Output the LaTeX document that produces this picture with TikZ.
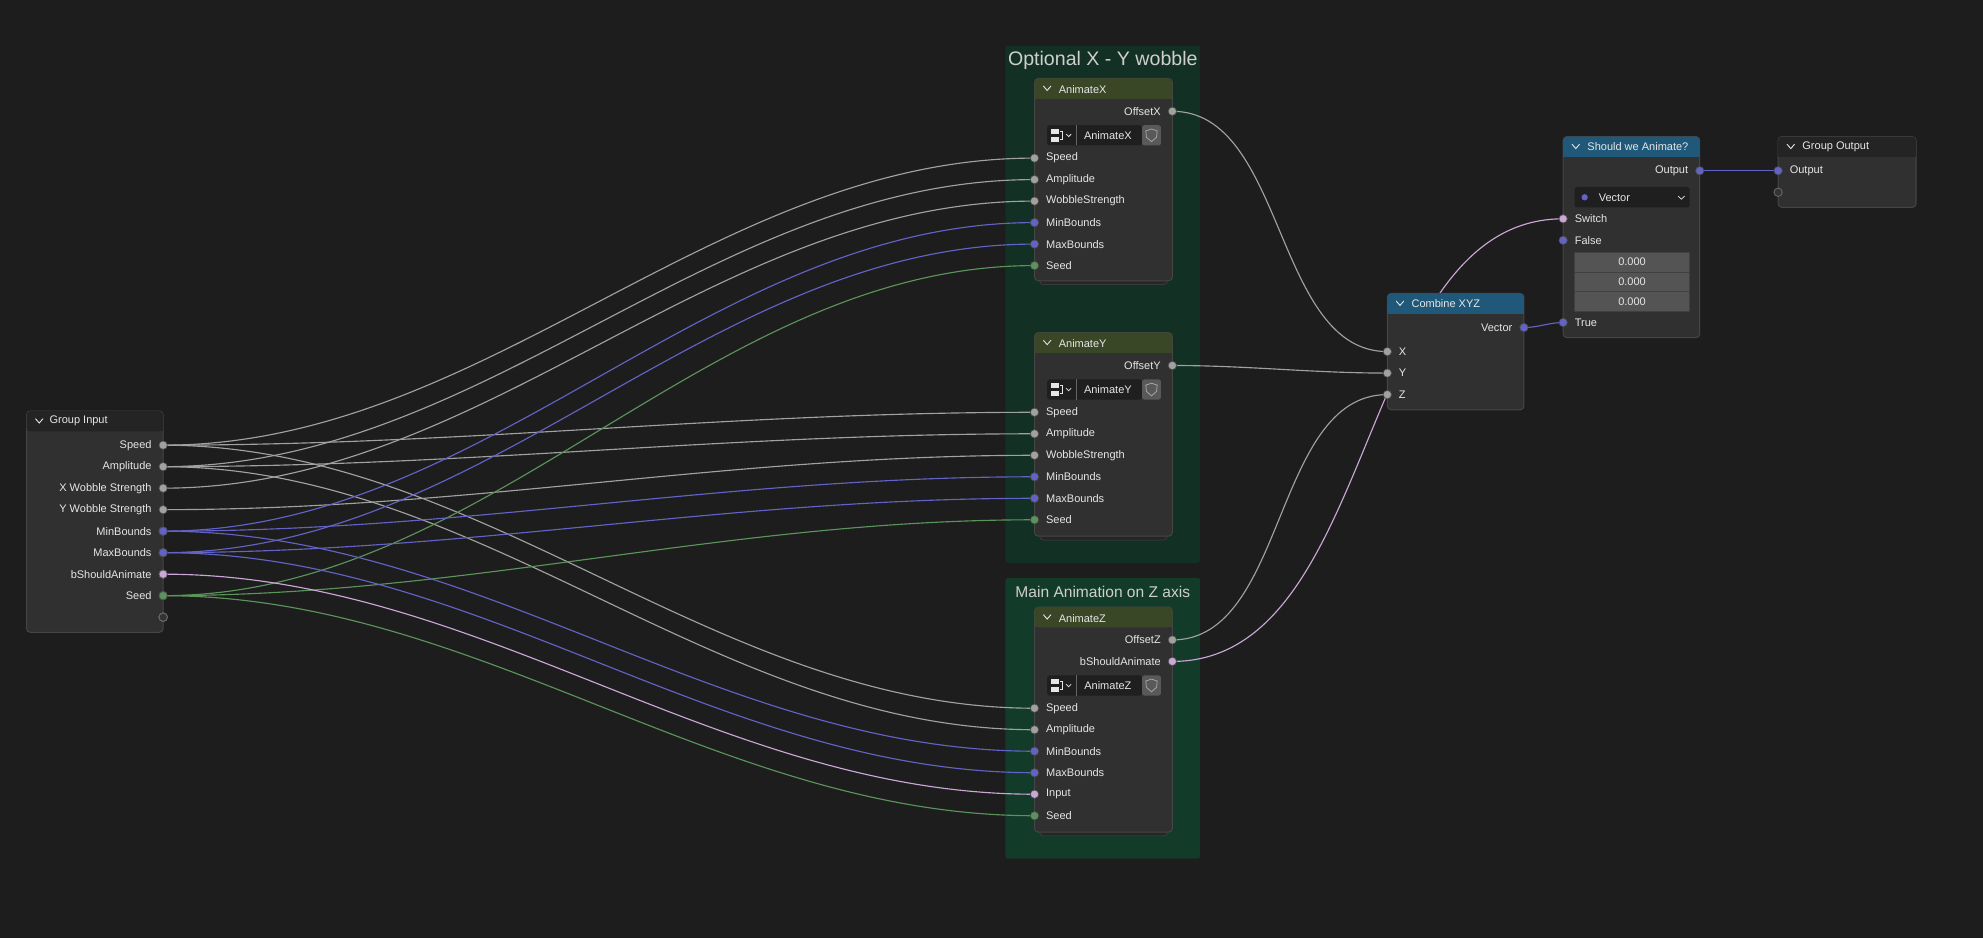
\documentclass[tikz,border=0pt]{standalone}
\usepackage{fontspec}
\setmainfont{Liberation Sans}
\begin{document}
\definecolor{bg}{HTML}{1D1D1D}
\definecolor{body}{HTML}{303030}
\definecolor{edge}{HTML}{454545}
\definecolor{frm}{HTML}{123024}
\definecolor{frm2}{HTML}{123B2A}
\definecolor{olive}{HTML}{3A4727}
\definecolor{blu}{HTML}{1F5878}
\definecolor{ghead}{HTML}{242424}
\definecolor{cgray}{HTML}{A1A1A1}
\definecolor{cvec}{HTML}{6363C7}
\definecolor{cint}{HTML}{5B945B}
\definecolor{cbool}{HTML}{CCA6D6}
\definecolor{txt}{HTML}{E6E6E6}
\begin{tikzpicture}[x=1pt,y=-1pt,
  nbody/.style={fill=body,draw=edge,line width=0.8,rounded corners=3},
  lbl/.style={text=txt,font=\fontsize{8.7}{10}\selectfont,inner sep=0},
  lin/.style={lbl,anchor=west},
  lout/.style={lbl,anchor=east},
  link/.style={line width=0.9,out=0,in=180,looseness=0.9},
  ftitle/.style={text=black!10!txt,inner sep=0}]
\newcommand\mysock[2]{\fill[#2,draw=black!70,line width=0.5] (#1) circle (3.3);}
\newcommand\myhdr[5]{% x1 y1 x2 y2 hdrcolor
  \fill[#5,rounded corners=3] (#1,#2) rectangle (#3,#2+16);
  \fill[#5] (#1,#2+8) rectangle (#3,#2+16);
  \draw[txt,line width=0.7] (#1+7,#2+6) -- (#1+10,#2+9.5) -- (#1+13,#2+6);}
\useasboundingbox (0,0) rectangle (1568,742);
\fill[bg] (0,0) rectangle (1568,742);
% frames
\fill[frm,rounded corners=2] (795,36) rectangle (949,445);
\node[ftitle,font=\fontsize{15.5}{17}\selectfont] (f1) at (872,48) {Optional X - Y wobble};
\fill[frm2,rounded corners=2] (795,457) rectangle (949,679);
\node[ftitle,font=\fontsize{12.3}{14}\selectfont] (f2) at (872,468) {Main Animation on Z axis};
% socket coordinates
\foreach \n/\y in {speed/352,amp/369,xw/386,yw/403,min/420,max/437,bs/454,seed/471,emp/488}
  \coordinate (gi-\n) at (129,\y);
\foreach \n/\y in {speed/125,amp/142,wob/159,min/176,max/193,seed/210}
  \coordinate (ax-\n) at (818,\y);
\coordinate (ax-out) at (927,88);
\foreach \n/\y in {speed/326,amp/343,wob/360,min/377,max/394,seed/411}
  \coordinate (ay-\n) at (818,\y);
\coordinate (ay-out) at (927,289);
\foreach \n/\y in {speed/560,amp/577,min/594,max/611,inp/628,seed/645}
  \coordinate (az-\n) at (818,\y);
\coordinate (az-out) at (927,506);
\coordinate (az-bs) at (927,523);
\coordinate (c-vec) at (1205,259);
\coordinate (c-x) at (1097,278);
\coordinate (c-y) at (1097,295);
\coordinate (c-z) at (1097,312);
\coordinate (s-out) at (1344,135);
\coordinate (s-sw) at (1236,173);
\coordinate (s-false) at (1236,190);
\coordinate (s-true) at (1236,255);
\coordinate (go-out) at (1406,135);
\coordinate (go-emp) at (1406,152);
% links
\foreach \a/\b in {speed/speed,amp/amp,xw/wob}
  \draw[link,cgray] (gi-\a) to (ax-\b);
\foreach \a/\b in {speed/speed,amp/amp,yw/wob}
  \draw[link,cgray] (gi-\a) to (ay-\b);
\foreach \a/\b in {speed/speed,amp/amp}
  \draw[link,cgray] (gi-\a) to (az-\b);
\foreach \t in {ax,ay,az}{
  \draw[link,cvec] (gi-min) to (\t-min);
  \draw[link,cvec] (gi-max) to (\t-max);
  \draw[link,cint] (gi-seed) to (\t-seed);}
\draw[link,cbool] (gi-bs) to (az-inp);
\draw[link,cgray] (ax-out) to (c-x);
\draw[link,cgray] (ay-out) to (c-y);
\draw[link,cgray] (az-out) to (c-z);
\draw[link,cbool] (az-bs) to (s-sw);
\draw[link,cvec] (c-vec) to (s-true);
\draw[link,cvec] (s-out) to (go-out);
% Group Input
\draw[nbody] (21,325) rectangle (129,500);
\myhdr{21}{325}{129}{341}{ghead}
\node[lin] (gi-t) at (39,333) {Group Input};
\foreach \n/\t in {speed/Speed,amp/Amplitude,xw/X Wobble Strength,yw/Y Wobble Strength,min/MinBounds,max/MaxBounds,bs/bShouldAnimate,seed/Seed}
  \node[lout] (gil-\n) at ([xshift=-9pt]gi-\n) {\t};
\newcommand\mygroup[5]{% x1 y1 y2 title widgety
  \draw[edge,fill=black!85!white,rounded corners=3] (#1+4,#3-5) rectangle (#1+105,#3+3);
  \draw[nbody] (#1,#2) rectangle (#1+109,#3);
  \myhdr{#1}{#2}{#1+109}{#2+17}{olive}
  \node[lin] at (#1+19,#2+9) {#4};
  \fill[black!88!white,rounded corners=2] (#1+10,#5-8) rectangle (#1+85,#5+8);
  \fill[black!65!white,rounded corners=2] (#1+85,#5-8) rectangle (#1+100,#5+8);
  \draw[black!35!white,line width=0.6] (#1+92.5,#5-5) -- (#1+97,#5-3.5) -- (#1+96.5,#5+1.5) -- (#1+92.5,#5+5) -- (#1+88.5,#5+1.5) -- (#1+88,#5-3.5) -- cycle;
  \fill[txt] (#1+13,#5-5) rectangle (#1+19,#5-1);
  \fill[txt] (#1+13,#5+1) rectangle (#1+19,#5+5);
  \draw[txt,line width=0.6] (#1+20,#5-3) -- (#1+22,#5-3) -- (#1+22,#5+3) -- (#1+20,#5+3);
  \draw[txt,line width=0.6] (#1+25,#5-1) -- (#1+27,#5+1) -- (#1+29,#5-1);
  \draw[black!60!white,line width=0.4] (#1+33,#5-8) -- (#1+33,#5+8);
  \node[lbl] at (#1+58,#5) {#4};}
\mygroup{818}{62}{222}{AnimateX}{107}
\mygroup{818}{263}{424}{AnimateY}{308}
\mygroup{818}{480}{658}{AnimateZ}{542}
\node[lout] (axo) at (918,88) {OffsetX};
\node[lout] (ayo) at (918,289) {OffsetY};
\node[lout] (azo) at (918,506) {OffsetZ};
\node[lout] (azb) at (918,523) {bShouldAnimate};
\foreach \n/\t in {speed/Speed,amp/Amplitude,wob/WobbleStrength,min/MinBounds,max/MaxBounds,seed/Seed}{
  \node[lin] at ([xshift=9pt]ax-\n) {\t};
  \node[lin] at ([xshift=9pt]ay-\n) {\t};}
\foreach \n/\t in {speed/Speed,amp/Amplitude,min/MinBounds,max/MaxBounds,inp/Input,seed/Seed}
  \node[lin] at ([xshift=9pt]az-\n) {\t};
% Combine XYZ
\draw[nbody] (1097,232) rectangle (1205,324);
\myhdr{1097}{232}{1205}{248}{blu}
\node[lin] (ct) at (1116,240) {Combine XYZ};
\node[lout] (cv) at (1196,259) {Vector};
\node[lin] (cx) at (1106,278) {X};
\node[lin] (cy) at (1106,295) {Y};
\node[lin] (cz) at (1106,312) {Z};
% Switch
\draw[nbody] (1236,108) rectangle (1344,267);
\myhdr{1236}{108}{1344}{124}{blu}
\node[lin] (st) at (1255,116) {Should we Animate?};
\node[lout] (so) at (1335,135) {Output};
\fill[black!88!white,rounded corners=2] (1245,148) rectangle (1336,164);
\fill[cvec] (1253,156) circle (2.5);
\node[lin] (sv) at (1264,156) {Vector};
\draw[txt,line width=0.6] (1327,155) -- (1329.5,157.5) -- (1332,155);
\node[lin] (ss) at (1245,173) {Switch};
\node[lin] (sf) at (1245,190) {False};
\foreach \y in {199.5,215,230.5}{
  \fill[black!67!white,draw=black!75!white,line width=0.5] (1245,\y) rectangle (1336,\y+15.5);
  \node[lbl] at (1290.5,\y+7.75) {0.000};}
\node[lin] (str) at (1245,255) {True};
% Group Output
\draw[nbody] (1406,108) rectangle (1515,164);
\myhdr{1406}{108}{1515}{124}{ghead}
\node[lin] (got) at (1425,116) {Group Output};
\node[lin] (goo) at (1415,135) {Output};
% sockets
\foreach \n in {speed,amp,xw,yw} \mysock{gi-\n}{cgray}
\mysock{gi-min}{cvec}\mysock{gi-max}{cvec}\mysock{gi-bs}{cbool}\mysock{gi-seed}{cint}
\draw[black!60!white,fill=black!80!white,line width=0.7] (gi-emp) circle (3.3);
\foreach \t in {ax,ay,az}{
  \mysock{\t-speed}{cgray}\mysock{\t-amp}{cgray}\mysock{\t-min}{cvec}\mysock{\t-max}{cvec}\mysock{\t-seed}{cint}\mysock{\t-out}{cgray}}
\mysock{ax-wob}{cgray}\mysock{ay-wob}{cgray}\mysock{az-inp}{cbool}\mysock{az-bs}{cbool}
\mysock{c-vec}{cvec}\mysock{c-x}{cgray}\mysock{c-y}{cgray}\mysock{c-z}{cgray}
\mysock{s-out}{cvec}\mysock{s-sw}{cbool}\mysock{s-false}{cvec}\mysock{s-true}{cvec}
\mysock{go-out}{cvec}
\draw[black!60!white,fill=black!80!white,line width=0.7] (go-emp) circle (3.3);
\end{tikzpicture}
\end{document}
